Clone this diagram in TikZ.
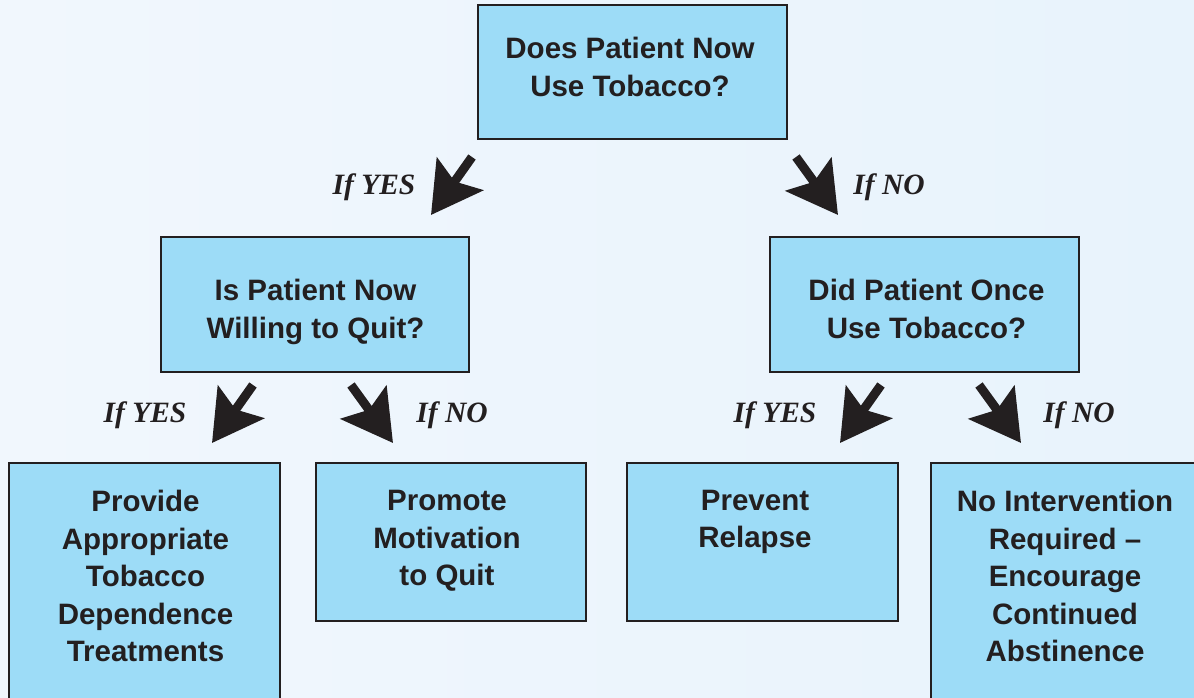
\documentclass[tikz,border=0pt]{standalone}
\usepackage{fontspec}
\setmainfont{Liberation Sans}
\newfontfamily\serifbi{Liberation Serif}
\usetikzlibrary{arrows.meta}
\definecolor{boxfill}{RGB}{157,220,247}
\definecolor{ink}{RGB}{35,31,32}
\definecolor{bgA}{RGB}{241,247,253}
\definecolor{bgM}{RGB}{226,240,251}
\definecolor{bgB}{RGB}{232,243,252}
\begin{document}
\begin{tikzpicture}[x=1pt,y=-1pt,
  box/.style={draw=ink, line width=2.6pt, fill=boxfill, inner sep=0pt, outer sep=0pt},
  boxtext/.style={font=\fontsize{29.5}{38}\selectfont\bfseries, text=ink, align=center, anchor=north, inner sep=0pt},
  lab/.style={font=\fontsize{29.5}{30}\selectfont\serifbi\bfseries\itshape, text=ink, inner sep=0pt},
  bigarrow/.style={draw=ink, line width=9pt, -{Stealth[length=50pt 0 0,width=56pt 0 0,inset=9pt 0 0]}}]
\useasboundingbox (0,0) rectangle (1194,698);
\clip (0,0) rectangle (1194,698);
\shade[left color=bgA, middle color=bgM, right color=bgB] (0,0) rectangle (1194,698);

% boxes
\node[box, minimum width=309pt, minimum height=134pt] (q1) at (632.5,72) {};
\node[box, minimum width=308pt, minimum height=135pt] (q2) at (315,304.5) {};
\node[box, minimum width=309pt, minimum height=135pt] (q3) at (924.5,304.5) {};
\node[box, minimum width=271pt, minimum height=250pt] (r1) at (144.5,588) {};
\node[box, minimum width=270pt, minimum height=158pt] (r2) at (451,542) {};
\node[box, minimum width=271pt, minimum height=158pt] (r3) at (762.5,542) {};
\node[box, minimum width=272pt, minimum height=250pt] (r4) at (1067,588) {};

% texts
\node[boxtext] (tq1) at (630,37) {Does Patient Now\\Use Tobacco?};
\node[boxtext] (tq2) at (315.5,279) {Is Patient Now\\Willing to Quit?};
\node[boxtext] (tq3) at (926.5,279) {Did Patient Once\\Use Tobacco?};
\node[boxtext, font=\fontsize{29.5}{37.5}\selectfont\bfseries] (tr1) at (145.5,490) {Provide\\Appropriate\\Tobacco\\Dependence\\Treatments};
\node[boxtext, font=\fontsize{29.5}{37.5}\selectfont\bfseries] (tr2) at (447,490) {Promote\\Motivation\\to Quit};
\node[boxtext, font=\fontsize{29.5}{37.5}\selectfont\bfseries] (tr3) at (755,490) {Prevent\\Relapse};
\node[boxtext, font=\fontsize{29.5}{37.5}\selectfont\bfseries] (tr4) at (1065,490) {No Intervention\\Required --\\Encourage\\Continued\\Abstinence};

% arrows
\coordinate (a1s) at (472,157); \coordinate (a1e) at (431,215);
\coordinate (a2s) at (796,157); \coordinate (a2e) at (838,215);
\coordinate (a3s) at (253,385); \coordinate (a3e) at (212,443);
\coordinate (a4s) at (351,385); \coordinate (a4e) at (393,443);
\coordinate (a5s) at (881,385); \coordinate (a5e) at (840,443);
\coordinate (a6s) at (979,385); \coordinate (a6e) at (1021,443);
\draw[bigarrow] (a1s) -- (a1e);
\draw[bigarrow] (a2s) -- (a2e);
\draw[bigarrow] (a3s) -- (a3e);
\draw[bigarrow] (a4s) -- (a4e);
\draw[bigarrow] (a5s) -- (a5e);
\draw[bigarrow] (a6s) -- (a6e);

% labels
\node[lab] (l1) at (374,187) {If YES};
\node[lab] (l2) at (889,187) {If NO};
\node[lab] (l3) at (145,415) {If YES};
\node[lab] (l4) at (452,415) {If NO};
\node[lab] (l5) at (775,415) {If YES};
\node[lab] (l6) at (1079,415) {If NO};
\end{tikzpicture}
\end{document}
